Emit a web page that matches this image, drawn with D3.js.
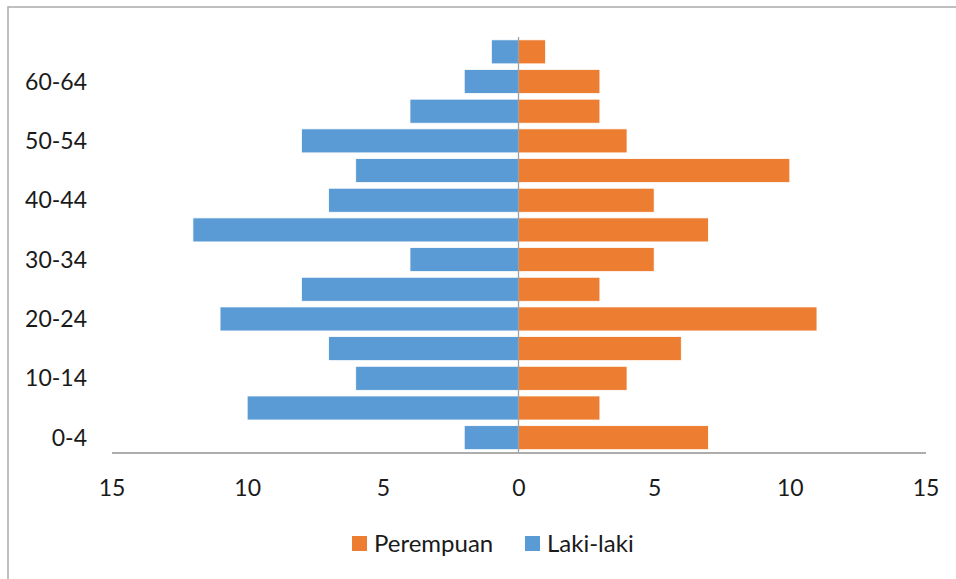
<!DOCTYPE html>
<html>
<head>
<meta charset="utf-8">
<script src="https://cdn.jsdelivr.net/npm/d3@7"></script>
<style>
  html, body { margin: 0; padding: 0; background: #fff; }
  svg { display: block; }
  text { font-family: Lato, "Open Sans", sans-serif; fill: #1a1a1a; }
</style>
</head>
<body>
<svg id="chart" width="956" height="579"></svg>
<script>
// Age groups, youngest first
const ageGroups = ["0-4","5-9","10-14","15-19","20-24","25-29","30-34","35-39","40-44","45-49","50-54","55-59","60-64","65-69"];
// Counts per age group
const perempuan = [7, 3, 4, 6, 11, 3, 5, 7, 5, 10, 4, 3, 3, 1];
const lakiLaki  = [2, 10, 6, 7, 11, 8, 4, 12, 7, 6, 8, 4, 2, 1];
// Axis ticks (shown as absolute values)
const xTicks = [-15, -10, -5, 0, 5, 10, 15];
const seriesNames = ["Perempuan", "Laki-laki"];
const colors = { "Perempuan": "#ED7D31", "Laki-laki": "#5B9BD5" };

const svg = d3.select("#chart");

// chart frame
svg.append("rect")
  .attr("x", 8).attr("y", 7).attr("width", 1000).attr("height", 700)
  .attr("fill", "none").attr("stroke", "#ABABAB").attr("stroke-width", 1.5);

const x = d3.scaleLinear().domain([-15, 15]).range([111.5, 925.5]);
const y = d3.scaleBand().domain(ageGroups).range([452.5, 37])
  .paddingInner(0.19).paddingOuter(0.095);

const rows = ageGroups.map((g, i) => ({ group: g, p: perempuan[i], l: lakiLaki[i] }));

// Laki-laki to the left of zero
svg.append("g").selectAll("rect").data(rows).join("rect")
  .attr("x", d => x(-d.l))
  .attr("y", d => y(d.group))
  .attr("width", d => x(0) - x(-d.l))
  .attr("height", y.bandwidth())
  .attr("fill", colors["Laki-laki"])
  .attr("stroke", "#fff").attr("stroke-width", 0.8);

// Perempuan to the right of zero
svg.append("g").selectAll("rect").data(rows).join("rect")
  .attr("x", x(0))
  .attr("y", d => y(d.group))
  .attr("width", d => x(d.p) - x(0))
  .attr("height", y.bandwidth())
  .attr("fill", colors["Perempuan"])
  .attr("stroke", "#fff").attr("stroke-width", 0.8);

// vertical category axis at zero
svg.append("line")
  .attr("x1", x(0)).attr("x2", x(0))
  .attr("y1", 37).attr("y2", 452.5)
  .attr("stroke", "#A0A0A0").attr("stroke-width", 1.3);

// horizontal value axis
const xAxis = d3.axisBottom(x).tickValues(xTicks).tickSize(0).tickPadding(0)
  .tickFormat(d => Math.abs(d));
const gx = svg.append("g").attr("transform", "translate(0,452.5)").call(xAxis);
gx.select(".domain").attr("stroke", "#ADADAD").attr("stroke-width", 2);
gx.selectAll(".tick text")
  .attr("dy", null).attr("y", 43)
  .style("font-size", "23px").attr("fill", "#1a1a1a");

// category labels, every other group
const yAxis = d3.axisLeft(y).tickValues(ageGroups.filter((g, i) => i % 2 === 0))
  .tickSize(0).tickPadding(0);
const gy = svg.append("g").attr("transform", "translate(87,0)").call(yAxis);
gy.select(".domain").remove();
gy.selectAll(".tick text")
  .attr("x", 0).attr("dy", "0.35em")
  .style("font-size", "23px").attr("fill", "#1a1a1a");

// legend
const legendItems = [
  { name: seriesNames[0], sx: 352, tx: 374 },
  { name: seriesNames[1], sx: 525, tx: 547 }
];
const lg = svg.append("g");
lg.selectAll("rect").data(legendItems).join("rect")
  .attr("x", d => d.sx).attr("y", 536).attr("width", 15).attr("height", 15)
  .attr("fill", d => colors[d.name]);
lg.selectAll("text").data(legendItems).join("text")
  .attr("x", d => d.tx).attr("y", 552)
  .style("font-size", "24px")
  .text(d => d.name);
</script>
</body>
</html>
